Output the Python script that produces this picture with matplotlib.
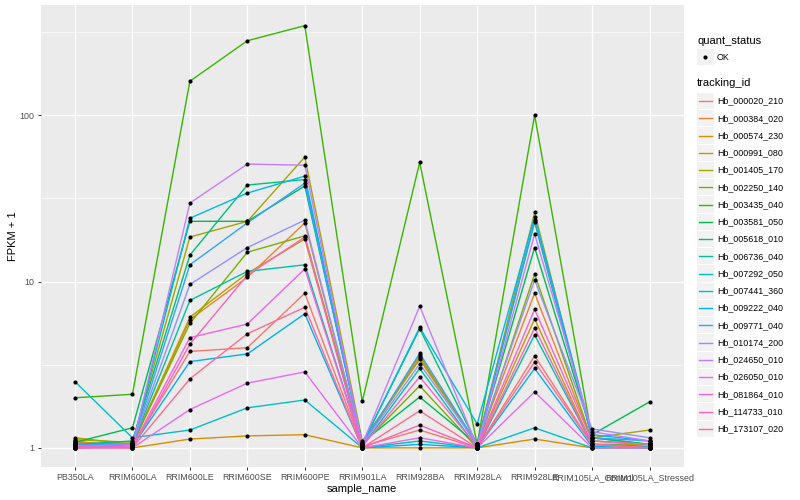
import numpy as np
import matplotlib
matplotlib.use("Agg")
import matplotlib.pyplot as plt
from matplotlib.patches import Rectangle
from matplotlib.lines import Line2D
from matplotlib.ticker import FixedLocator, NullFormatter

plt.rcParams['font.family'] = ['Liberation Sans', 'DejaVu Sans']

samples = ["PB350LA", "RRIM600LA", "RRIM600LE", "RRIM600SE", "RRIM600PE", "RRIM901LA",
           "RRIM928BA", "RRIM928LA", "RRIM928LE", "RRIM105LA_Control", "RRIM105LA_Stressed"]

tracking_ids = ["Hb_000020_210", "Hb_000384_020", "Hb_000574_230", "Hb_000991_080",
                "Hb_001405_170", "Hb_002250_140", "Hb_003435_040", "Hb_003581_050",
                "Hb_005618_010", "Hb_006736_040", "Hb_007292_050", "Hb_007441_360",
                "Hb_009222_040", "Hb_009771_040", "Hb_010174_200", "Hb_024650_010",
                "Hb_026050_010", "Hb_081864_010", "Hb_114733_010", "Hb_173107_020"]

# ggplot hue palette, 20 levels
colors = ["#F8766D", "#EA8331", "#D89000", "#C09B00", "#A3A500", "#7CAE00", "#39B600",
          "#00BB4E", "#00BF7D", "#00C1A3", "#00BFC4", "#00BAE0", "#00B0F6", "#35A2FF",
          "#9590FF", "#C77CFF", "#E76BF3", "#FA62DB", "#FF62BC", "#FF6C91"]

# FPKM + 1, one row per tracking_id, one column per sample
fpkm1 = [
    [1.05, 1.02, 3.8, 4.0, 8.5, 1.02, 1.28, 1.00, 3.57, 1.05, 1.02],
    [1.08, 1.05, 5.9, 10.6, 22.5, 1.05, 3.5, 1.05, 8.5, 1.10, 1.05],
    [1.10, 1.00, 1.13, 1.18, 1.20, 1.00, 1.00, 1.00, 1.13, 1.00, 1.00],
    [1.15, 1.05, 6.1, 11.2, 18.0, 1.05, 3.6, 1.02, 5.95, 1.05, 1.05],
    [1.12, 1.08, 18.5, 23.0, 56.0, 1.10, 3.4, 1.05, 26.0, 1.15, 1.28],
    [1.05, 1.05, 5.6, 15.0, 18.8, 1.05, 2.36, 1.00, 11.1, 1.10, 1.05],
    [2.00, 2.10, 160.0, 280.0, 345.0, 1.90, 52.0, 1.05, 100.0, 1.15, 1.05],
    [1.08, 1.32, 23.0, 23.0, 37.5, 1.08, 2.02, 1.05, 16.0, 1.20, 1.89],
    [1.05, 1.10, 14.4, 38.0, 41.0, 1.05, 5.2, 1.05, 22.7, 1.15, 1.05],
    [1.02, 1.05, 7.7, 11.5, 12.6, 1.02, 3.0, 1.00, 4.77, 1.05, 1.02],
    [2.50, 1.15, 1.28, 1.74, 1.94, 1.00, 1.10, 1.00, 1.32, 1.00, 1.00],
    [1.02, 1.05, 24.0, 34.0, 43.0, 1.05, 5.3, 1.39, 24.5, 1.20, 1.10],
    [1.00, 1.02, 3.3, 3.67, 6.4, 1.00, 1.05, 1.00, 3.0, 1.02, 1.00],
    [1.05, 1.05, 12.6, 22.5, 39.0, 1.05, 3.7, 1.05, 23.5, 1.15, 1.10],
    [1.02, 1.05, 9.6, 16.0, 23.4, 1.05, 3.2, 1.05, 10.2, 1.30, 1.15],
    [1.00, 1.02, 29.6, 50.8, 50.0, 1.05, 7.1, 1.02, 19.3, 1.25, 1.10],
    [1.00, 1.00, 1.7, 2.45, 2.86, 1.00, 1.15, 1.00, 2.17, 1.00, 1.00],
    [1.00, 1.02, 4.6, 5.55, 11.9, 1.02, 2.67, 1.02, 6.8, 1.10, 1.05],
    [1.02, 1.00, 4.2, 10.9, 18.5, 1.00, 1.37, 1.00, 5.25, 1.05, 1.00],
    [1.00, 1.00, 2.6, 4.85, 7.0, 1.00, 1.67, 1.00, 3.28, 1.05, 1.00],
]

fig = plt.figure(figsize=(8, 5), dpi=100)
ax = fig.add_axes([40.5 / 800, 1 - 467 / 500, 643.5 / 800, 462 / 500])
ax.set_facecolor("#EBEBEB")
for s in ax.spines.values():
    s.set_visible(False)

x = np.arange(len(samples))
for vals, c in zip(fpkm1, colors):
    ax.plot(x, vals, color=c, lw=1.0, zorder=2)
for vals in fpkm1:
    ax.plot(x, vals, "o", color="black", ms=3.0, mew=0, zorder=3)

ax.set_yscale("log")
ax.set_ylim(10 ** -0.115, 10 ** 2.662)
ax.set_xlim(-0.6, len(samples) - 0.4)
ax.yaxis.set_major_locator(FixedLocator([1, 10, 100]))
ax.set_yticklabels(["1", "10", "100"])
ax.yaxis.set_minor_locator(FixedLocator([10 ** 0.5, 10 ** 1.5, 10 ** 2.5]))
ax.yaxis.set_minor_formatter(NullFormatter())
ax.set_xticks(x)
ax.set_xticklabels(samples)

ax.grid(True, which="major", color="white", lw=1.0, zorder=0)
ax.grid(True, which="minor", axis="y", color="white", lw=0.5, zorder=0)
ax.set_axisbelow(True)
ax.tick_params(axis="both", which="major", length=2.5, width=0.7, color="#333333",
               labelsize=6.4, labelcolor="#4D4D4D", pad=2)
ax.tick_params(axis="y", which="minor", length=0)

ax.set_xlabel("sample_name", fontsize=8, labelpad=1)
ax.set_ylabel("FPKM + 1", fontsize=8, labelpad=1)

# legends drawn in a pixel-space overlay
lax = fig.add_axes([0, 0, 1, 1], facecolor="none")
lax.set_xlim(0, 800)
lax.set_ylim(500, 0)
lax.axis("off")

lax.text(697, 41, "quant_status", fontsize=8, va="center", ha="left")
lax.add_patch(Rectangle((697, 48.5), 16.5, 16.5, facecolor="#F2F2F2", edgecolor="none"))
lax.plot([705.2], [56.8], "o", color="black", ms=3.0, mew=0)
lax.text(717, 57, "OK", fontsize=6.4, va="center", ha="left")

lax.text(697, 83, "tracking_id", fontsize=8, va="center", ha="left")
y0 = 101
step = 17.25
for i, (tid, c) in enumerate(zip(tracking_ids, colors)):
    yc = y0 + i * step
    lax.add_patch(Rectangle((697, yc - 8.1), 16.5, 16.2, facecolor="#F2F2F2", edgecolor="none"))
    lax.add_line(Line2D([698.5, 711.8], [yc, yc], color=c, lw=1.0))
    lax.text(717, yc, tid, fontsize=6.4, va="center", ha="left")

fig.savefig("out.png", dpi=100)
